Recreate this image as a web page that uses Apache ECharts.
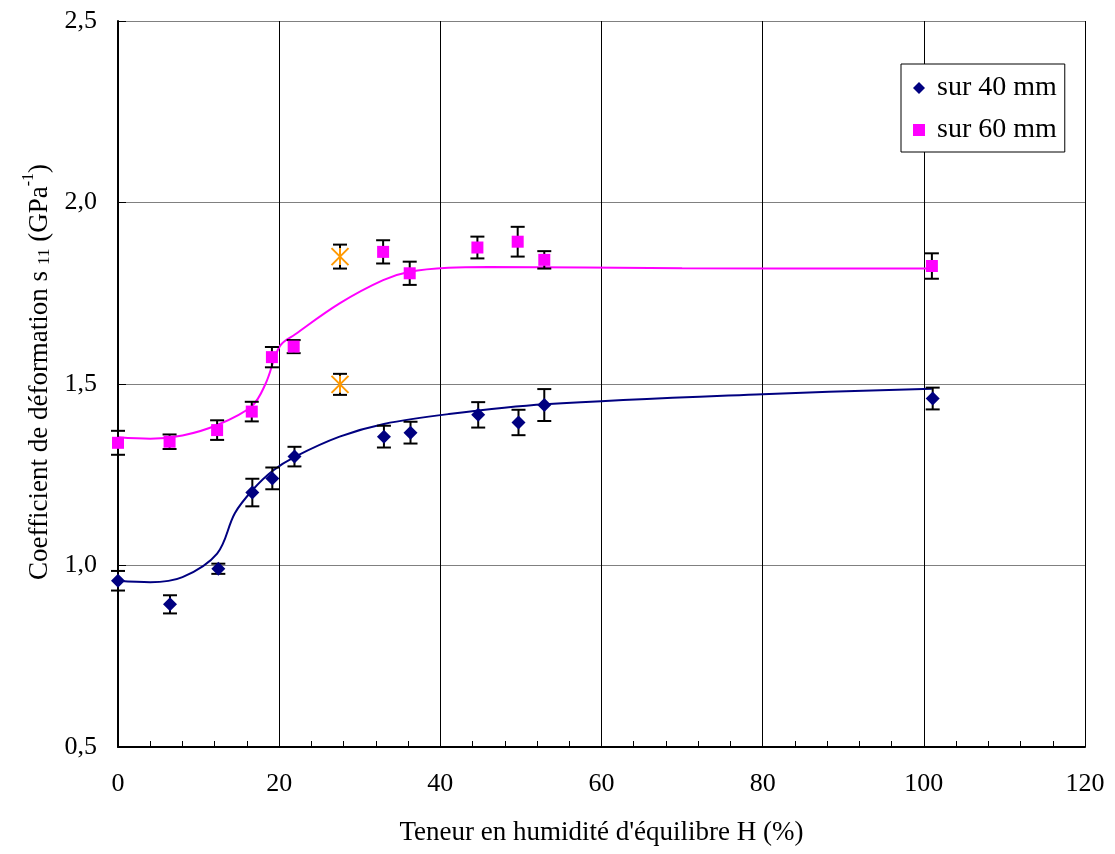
<!DOCTYPE html>
<html>
<head>
<meta charset="utf-8">
<script src="https://cdn.jsdelivr.net/npm/echarts@6/dist/echarts.min.js"></script>
<style>
  html, body { margin: 0; padding: 0; background: #fff; }
  #chart { width: 1115px; height: 854px; }
</style>
</head>
<body>
<div id="chart"></div>
<script>
// Measured points: humidity H (%), compliance s11 (GPa^-1), and error half-width
const h40   = [0, 6.45, 12.45, 16.67, 19.15, 21.9, 33.0, 36.3, 44.7, 49.7, 52.9, 101.1];
const s40   = [0.958, 0.893, 0.991, 1.201, 1.240, 1.300, 1.355, 1.366, 1.415, 1.394, 1.442, 1.460];
const err40 = [0.027, 0.025, 0.014, 0.038, 0.030, 0.027, 0.030, 0.030, 0.035, 0.035, 0.044, 0.030];

const h60   = [0, 6.4, 12.3, 16.6, 19.1, 21.8, 32.9, 36.2, 44.6, 49.6, 52.9, 101];
const s60   = [1.338, 1.341, 1.373, 1.424, 1.574, 1.603, 1.864, 1.805, 1.876, 1.892, 1.842, 1.825];
const err60 = [0.033, 0.020, 0.027, 0.027, 0.028, 0.018, 0.032, 0.032, 0.030, 0.041, 0.024, 0.035];

// Discarded measurements (shown as asterisks, not in the fit)
const hOut   = [27.55, 27.55];
const sOut   = [1.851, 1.499];
const errOut = [0.033, 0.029];

// Trend curves
const fitH40 = [0, 4, 8, 12.3, 14.5, 16.7, 19.2, 22, 27.5, 33, 41, 53, 80, 101];
const fitS40 = [0.958, 0.954, 0.968, 1.033, 1.144, 1.208, 1.261, 1.300, 1.355, 1.390, 1.417, 1.444, 1.472, 1.487];
const fitH60 = [0, 4, 8, 12.3, 16.6, 18.3, 20.1, 22, 27.5, 32.9, 36.2, 41, 46, 70, 101];
const fitS60 = [1.353, 1.349, 1.358, 1.387, 1.439, 1.500, 1.605, 1.637, 1.722, 1.786, 1.809, 1.820, 1.822, 1.819, 1.818];

// Axis ticks
const xTicks = [0, 20, 40, 60, 80, 100, 120];
const yTicks = [0.5, 1.0, 1.5, 2.0, 2.5];

const FONT = 'Liberation Serif';
const NAVY = '#000080';
const PINK = '#FF00FF';
const ORANGE = '#FF9900';

const zip = (xs, ys) => xs.map((x, i) => [x, ys[i]]);
const zip3 = (xs, ys, es) => xs.map((x, i) => [x, ys[i], es[i]]);

function errorBars(api) {
  const x = api.value(0), y = api.value(1), e = api.value(2);
  const top = api.coord([x, y + e]);
  const bot = api.coord([x, y - e]);
  const hw = 7;
  const style = { stroke: '#000', lineWidth: 2 };
  return {
    type: 'group',
    children: [
      { type: 'line', shape: { x1: top[0], y1: top[1], x2: bot[0], y2: bot[1] }, style },
      { type: 'line', shape: { x1: top[0] - hw, y1: top[1], x2: top[0] + hw, y2: top[1] }, style },
      { type: 'line', shape: { x1: bot[0] - hw, y1: bot[1], x2: bot[0] + hw, y2: bot[1] }, style }
    ]
  };
}

const chart = echarts.init(document.getElementById('chart'), null, { renderer: 'canvas' });

chart.setOption({
  animation: false,
  backgroundColor: '#fff',
  grid: { left: 118, right: 30, top: 21, bottom: 107, containLabel: false },
  legend: {
    orient: 'vertical',
    left: 901,
    top: 64,
    padding: [10, 8, 8, 12],
    itemGap: 14,
    itemWidth: 12,
    itemHeight: 12,
    borderColor: '#000',
    borderWidth: 1,
    backgroundColor: '#fff',
    textStyle: { fontFamily: FONT, fontSize: 28, color: '#000', padding: [0, 0, 0, 7] },
    data: [
      { name: 'sur 40 mm', icon: 'diamond' },
      { name: 'sur 60 mm', icon: 'rect' }
    ]
  },
  xAxis: {
    type: 'value',
    min: xTicks[0],
    max: xTicks[xTicks.length - 1],
    interval: 20,
    name: "Teneur en humidité d'équilibre H (%)",
    nameLocation: 'middle',
    nameGap: 72,
    nameTextStyle: { fontFamily: FONT, fontSize: 27, color: '#000' },
    axisLine: { show: true, onZero: false, lineStyle: { color: '#000', width: 2 } },
    axisTick: { show: true, inside: true, length: 6, lineStyle: { color: '#000', width: 1 } },
    minorTick: { show: true, splitNumber: 5, length: 6, lineStyle: { color: '#000', width: 1 } },
    splitLine: { show: true, lineStyle: { color: '#000', width: 1 } },
    axisLabel: { fontFamily: FONT, fontSize: 26, color: '#000', margin: 24 }
  },
  yAxis: {
    type: 'value',
    min: yTicks[0],
    max: yTicks[yTicks.length - 1],
    interval: 0.5,
    axisLine: { show: true, onZero: false, lineStyle: { color: '#000', width: 2 } },
    axisTick: { show: true, inside: true, length: 8, lineStyle: { color: '#000', width: 1 } },
    splitLine: { show: true, lineStyle: { color: '#808080', width: 1 } },
    axisLabel: {
      fontFamily: FONT, fontSize: 26, color: '#000', margin: 21,
      formatter: v => v.toFixed(1).replace('.', ',')
    }
  },
  graphic: [{
    type: 'text',
    x: 37,
    y: 372,
    rotation: Math.PI / 2,
    style: {
      text: '{a|Coefficient de déformation s}{b|11}{a| (GPa}{c|-1}{a|)}',
      align: 'center',
      verticalAlign: 'middle',
      fill: '#000',
      rich: {
        a: { fontFamily: FONT, fontSize: 27, lineHeight: 32, verticalAlign: 'bottom', fill: '#000' },
        b: { fontFamily: FONT, fontSize: 17, lineHeight: 22, verticalAlign: 'bottom', fill: '#000', padding: [0, 0, 0, 6] },
        c: { fontFamily: FONT, fontSize: 16, lineHeight: 16, verticalAlign: 'top', fill: '#000' }
      }
    }
  }],
  series: [
    {
      name: 'fit40', type: 'line', data: zip(fitH40, fitS40), smooth: 0.35,
      showSymbol: false, symbol: 'none', lineStyle: { color: NAVY, width: 2 }, z: 2, silent: true
    },
    {
      name: 'fit60', type: 'line', data: zip(fitH60, fitS60), smooth: 0.35,
      showSymbol: false, symbol: 'none', lineStyle: { color: PINK, width: 2 }, z: 2, silent: true
    },
    { name: 'err40', type: 'custom', renderItem: (p, api) => errorBars(api), data: zip3(h40, s40, err40), z: 3 },
    { name: 'err60', type: 'custom', renderItem: (p, api) => errorBars(api), data: zip3(h60, s60, err60), z: 3 },
    { name: 'errOut', type: 'custom', renderItem: (p, api) => errorBars(api), data: zip3(hOut, sOut, errOut), z: 3 },
    {
      name: 'sur 40 mm', type: 'scatter', data: zip(h40, s40), symbol: 'diamond', symbolSize: 14,
      itemStyle: { color: NAVY, opacity: 1 }, z: 4
    },
    {
      name: 'sur 60 mm', type: 'scatter', data: zip(h60, s60), symbol: 'rect', symbolSize: 12,
      itemStyle: { color: PINK, opacity: 1 }, z: 4
    },
    {
      name: 'exclus', type: 'scatter', data: zip(hOut, sOut),
      symbol: 'path://M0,0 L10,10 M10,0 L0,10 M5,0 L5,10', symbolSize: 17, symbolKeepAspect: true,
      itemStyle: { color: 'none', borderColor: ORANGE, borderWidth: 2, opacity: 1 }, z: 5
    }
  ]
});
</script>
</body>
</html>
